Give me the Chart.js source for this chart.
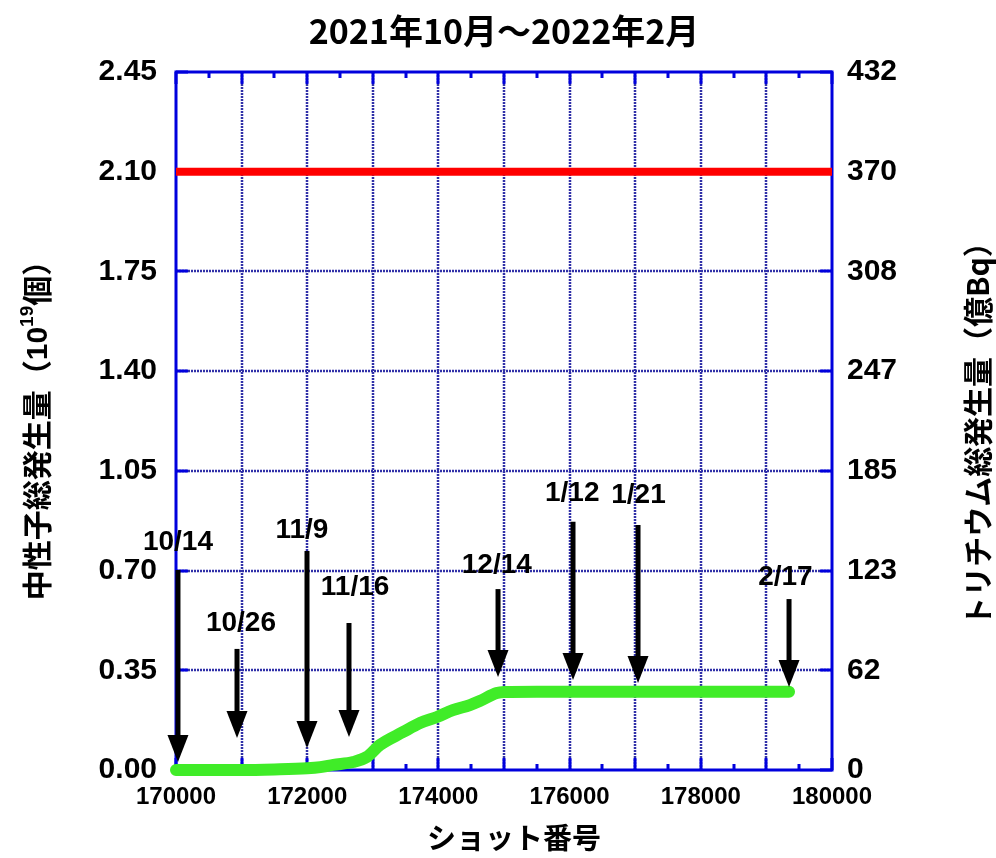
<!DOCTYPE html>
<html>
<head>
<meta charset="utf-8">
<script src="https://cdn.jsdelivr.net/npm/chart.js@4"></script>
<style>
html,body{margin:0;padding:0;background:#fff;}
#wrap{width:996px;height:858px;position:relative;}
</style>
</head>
<body>
<div id="wrap"><canvas id="c" width="996" height="858"></canvas></div>
<script>
// ---- data ----
const chartTitle = '2021年10月～2022年2月';
const xAxisTitle = 'ショット番号';
const leftTitleMain = '中性子総発生量（10';
const leftTitleSup = '19';
const leftTitleEnd = '個）';
const rightTitle = 'トリチウム総発生量（億Bq）';

const xTickLabels = ['170000','172000','174000','176000','178000','180000'];
const leftTickLabels = ['0.00','0.35','0.70','1.05','1.40','1.75','2.10','2.45'];
const rightTickLabels = ['0','62','123','185','247','308','370','432'];

const shotNumbers = [170000,170500,171000,171500,172000,172200,172400,172700,172910,173110,173460,173720,173980,174220,174480,174630,174890,175000,175500,176000,177000,178000,179000,179345];
const neutronTotal = [0,0,0,0.002,0.006,0.01,0.018,0.028,0.046,0.088,0.133,0.165,0.186,0.21,0.228,0.242,0.27,0.274,0.275,0.275,0.275,0.275,0.275,0.275];

const limitValue = 2.10;

const arrowLabels = ['10/14','10/26','11/9','11/16','12/14','1/12','1/21','2/17'];
const arrowShots  = [170030,170930,171997,172637,174909,176052,177043,179345];
const arrowTops   = [0.702,0.425,0.769,0.516,0.635,0.871,0.860,0.600];
const arrowTips   = [0.028,0.112,0.077,0.116,0.326,0.316,0.305,0.291];
const labelShots  = [170030,170990,171920,172730,174890,176040,177050,179290];
const labelValues = [0.800,0.516,0.842,0.642,0.720,0.972,0.965,0.678];

// ---- styles ----
const LATIN = '"Liberation Sans", Arial, sans-serif';
const CJK = '"Noto Sans CJK JP", "Noto Sans", sans-serif';
const FRAME = '#0000dd';

const decorPlugin = {
  id: 'decor',
  beforeDatasetsDraw(chart) {
    const {ctx, chartArea: a, scales} = chart;
    const xs = scales.x, ys = scales.y;
    ctx.save();
    // dotted grid
    ctx.strokeStyle = '#3030a8';
    ctx.lineWidth = 2.5;
    ctx.setLineDash([2, 1]);
    for (let v = xs.min + 1000; v < xs.max; v += 1000) {
      const px = Math.round(xs.getPixelForValue(v));
      ctx.beginPath(); ctx.moveTo(px, a.top); ctx.lineTo(px, a.bottom); ctx.stroke();
    }
    leftTickLabels.forEach(s => {
      const v = parseFloat(s);
      if (v <= ys.min || v >= ys.max) return;
      const py = Math.round(ys.getPixelForValue(v));
      ctx.beginPath(); ctx.moveTo(a.left, py); ctx.lineTo(a.right, py); ctx.stroke();
    });
    ctx.setLineDash([]);
    // ticks
    ctx.strokeStyle = FRAME;
    ctx.lineWidth = 3;
    for (let v = xs.min; v <= xs.max; v += 500) {
      const px = Math.round(xs.getPixelForValue(v));
      const len = (v % 1000 === 0) ? 12 : 6;
      ctx.beginPath();
      ctx.moveTo(px, a.top); ctx.lineTo(px, a.top + len);
      ctx.moveTo(px, a.bottom); ctx.lineTo(px, a.bottom - len);
      ctx.stroke();
    }
    leftTickLabels.forEach(s => {
      const py = Math.round(ys.getPixelForValue(parseFloat(s)));
      ctx.beginPath();
      ctx.moveTo(a.left, py); ctx.lineTo(a.left + 12, py);
      ctx.moveTo(a.right, py); ctx.lineTo(a.right - 12, py);
      ctx.stroke();
    });
    // frame
    ctx.strokeRect(a.left, a.top, a.right - a.left, a.bottom - a.top);
    ctx.restore();
  },
  afterDatasetsDraw(chart) {
    const {ctx, scales} = chart;
    const xs = scales.x, ys = scales.y;
    ctx.save();
    ctx.fillStyle = '#000';
    ctx.strokeStyle = '#000';
    arrowLabels.forEach((lab, i) => {
      const x = xs.getPixelForValue(arrowShots[i]);
      const yTop = ys.getPixelForValue(arrowTops[i]);
      const yTip = ys.getPixelForValue(arrowTips[i]);
      const headL = 27, headW = 21;
      ctx.lineWidth = 5;
      ctx.beginPath(); ctx.moveTo(x, yTop); ctx.lineTo(x, yTip - headL + 2); ctx.stroke();
      ctx.beginPath();
      ctx.moveTo(x - headW / 2, yTip - headL);
      ctx.lineTo(x + headW / 2, yTip - headL);
      ctx.lineTo(x, yTip);
      ctx.closePath(); ctx.fill();
      ctx.font = 'bold 28px ' + LATIN;
      ctx.textAlign = 'center';
      ctx.textBaseline = 'middle';
      ctx.fillText(lab, xs.getPixelForValue(labelShots[i]), ys.getPixelForValue(labelValues[i]));
    });
    ctx.restore();
  },
  afterDraw(chart) {
    const {ctx, chartArea: a} = chart;
    ctx.save();
    ctx.fillStyle = '#000';
    ctx.textAlign = 'center';
    ctx.textBaseline = 'middle';
    // chart title
    ctx.font = 'bold 34px ' + CJK;
    ctx.fillText(chartTitle, (a.left + a.right) / 2, 31);
    // x title
    ctx.font = 'bold 29px ' + CJK;
    ctx.fillText(xAxisTitle, (a.left + a.right) / 2 + 10, 838);
    // left title (rotated, with superscript)
    ctx.save();
    ctx.translate(37, 423);
    ctx.rotate(-Math.PI / 2);
    ctx.textAlign = 'left';
    const fMain = 'bold 30px ' + CJK, fSup = 'bold 19px ' + LATIN, fNum = 'bold 30px ' + LATIN;
    const partA = leftTitleMain.slice(0, -2), partNum = leftTitleMain.slice(-2);
    ctx.font = fMain; const wA = ctx.measureText(partA).width; const wE = ctx.measureText(leftTitleEnd).width;
    ctx.font = fNum; const wN = ctx.measureText(partNum).width;
    ctx.font = fSup; const wS = ctx.measureText(leftTitleSup).width;
    let x0 = -(wA + wN + wS + wE) / 2;
    ctx.font = fMain; ctx.fillText(partA, x0, 0); x0 += wA;
    ctx.font = fNum; ctx.fillText(partNum, x0, 2); x0 += wN;
    ctx.font = fSup; ctx.fillText(leftTitleSup, x0, -9); x0 += wS;
    ctx.font = fMain; ctx.fillText(leftTitleEnd, x0, 0);
    ctx.restore();
    // right title
    ctx.save();
    ctx.translate(978, 427);
    ctx.rotate(-Math.PI / 2);
    ctx.font = 'bold 30px ' + CJK;
    ctx.fillText(rightTitle, 0, 0);
    ctx.restore();
    ctx.restore();
  }
};

const tickValuesFrom = labels => labels.map(s => ({value: parseFloat(s)}));

new Chart(document.getElementById('c'), {
  type: 'line',
  data: {
    datasets: [
      {
        label: 'limit',
        data: [{x: 170000, y: limitValue}, {x: 180000, y: limitValue}],
        borderColor: '#ff0000',
        borderWidth: 8,
        pointRadius: 0,
        borderCapStyle: 'butt',
        yAxisID: 'y'
      },
      {
        label: 'neutron',
        data: shotNumbers.map((s, i) => ({x: s, y: neutronTotal[i]})),
        borderColor: 'rgb(64,236,40)',
        borderWidth: 12,
        pointRadius: 0,
        borderCapStyle: 'round',
        borderJoinStyle: 'round',
        cubicInterpolationMode: 'monotone',
        clip: false,
        yAxisID: 'y'
      }
    ]
  },
  options: {
    responsive: false,
    animation: false,
    events: [],
    layout: {padding: {top: 72, left: 0, right: 0, bottom: 0}},
    plugins: {legend: {display: false}, tooltip: {enabled: false}, title: {display: false}},
    scales: {
      x: {
        type: 'linear',
        position: 'bottom',
        min: 170000, max: 180000,
        afterBuildTicks: s => { s.ticks = tickValuesFrom(xTickLabels); },
        afterFit: s => { s.height = 88; },
        grid: {display: false, drawTicks: false},
        border: {display: false},
        ticks: {
          autoSkip: false, maxRotation: 0,
          padding: 13,
          color: '#000',
          font: {family: LATIN, size: 24, weight: 'bold'},
          callback: (v, i) => xTickLabels[i]
        }
      },
      y: {
        type: 'linear',
        position: 'left',
        min: 0, max: 2.45,
        afterBuildTicks: s => { s.ticks = tickValuesFrom(leftTickLabels); },
        afterFit: s => { s.width = 176; },
        grid: {display: false, drawTicks: false},
        border: {display: false},
        ticks: {
          padding: 19,
          color: '#000',
          font: {family: LATIN, size: 30, weight: 'bold'},
          callback: (v, i) => leftTickLabels[i]
        }
      },
      y2: {
        type: 'linear',
        position: 'right',
        min: 0, max: 2.45,
        afterBuildTicks: s => { s.ticks = tickValuesFrom(leftTickLabels); },
        afterFit: s => { s.width = 164; },
        grid: {display: false, drawTicks: false},
        border: {display: false},
        ticks: {
          padding: 15,
          color: '#000',
          font: {family: LATIN, size: 30, weight: 'bold'},
          callback: (v, i) => rightTickLabels[i]
        }
      }
    }
  },
  plugins: [decorPlugin]
});
</script>
</body>
</html>
